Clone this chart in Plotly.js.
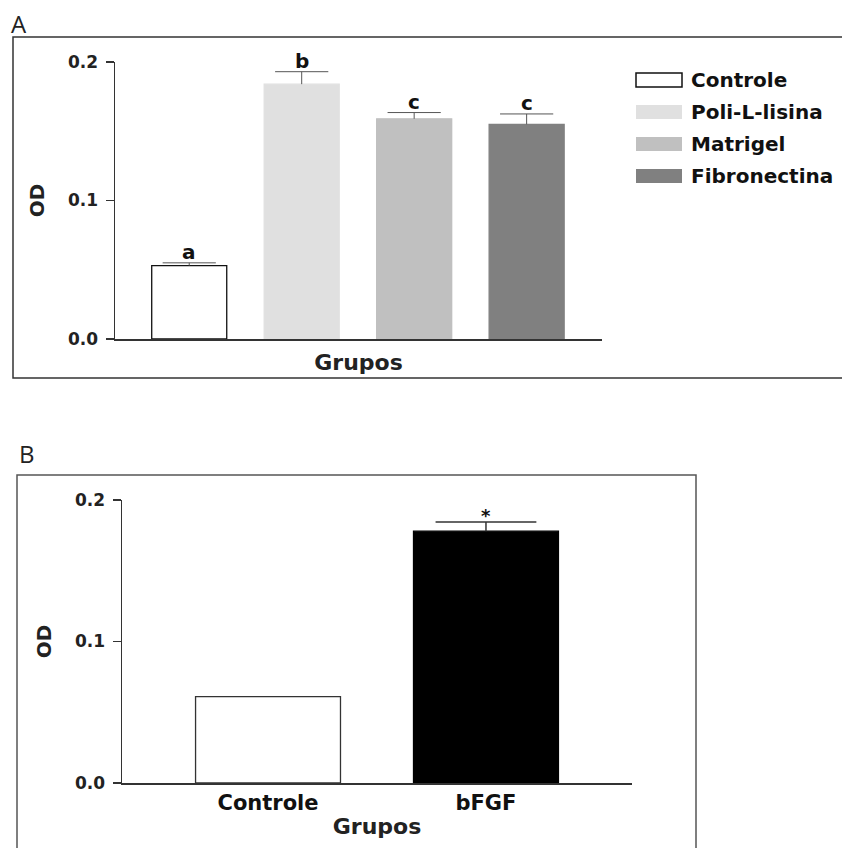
<!DOCTYPE html>
<html>
<head>
<meta charset="utf-8">
<script src="https://cdn.plot.ly/plotly-3.0.1.min.js"></script>
<style>html,body{margin:0;padding:0;background:#fff;}#chart{width:842px;height:848px;}</style>
</head>
<body>
<div id="chart"></div>
<script>
// ---- data (panel A) ----
const groupsA = ['Controle', 'Poli-L-lisina', 'Matrigel', 'Fibronectina'];
const odA = [0.053, 0.184, 0.159, 0.155];
const errA = [0.002, 0.009, 0.0045, 0.0075];
const lettersA = ['a', 'b', 'c', 'c'];
// ---- data (panel B) ----
const groupsB = ['Controle', 'bFGF'];
const odB = [0.061, 0.178];
const errB = [0, 0.0065];
const marksB = ['', '*'];
const yTicks = [0, 0.1, 0.2];
const yTitle = 'OD';
const xTitle = 'Grupos';
const panelLabels = ['A', 'B'];

// ---- styles ----
const W = 842, H = 848;
const px = x => x / W;
const py = y => 1 - y / H;
const fillA = ['#ffffff', '#e0e0e0', '#c0c0c0', '#808080'];
const edgeA = ['#111111', '#e0e0e0', '#c0c0c0', '#808080'];
const fillB = ['#ffffff', '#000000'];
const edgeB = ['#333333', '#000000'];
const boldFont = 'DejaVu Sans, Verdana, sans-serif';

const topA = odA.map((v, i) => v + errA[i]);
const topB = odB.map((v, i) => v + errB[i]);

const traces = [
  {
    type: 'bar', x: groupsA, y: odA, xaxis: 'x', yaxis: 'y', width: 0.667,
    marker: {color: fillA, line: {color: edgeA, width: 1.3}},
    error_y: {type: 'data', array: errA, arrayminus: errA.map(() => 0), symmetric: false,
              color: '#555', thickness: 1, width: 0},
    hoverinfo: 'x+y', showlegend: false
  },
  { // error bar caps (upper only)
    type: 'scatter', mode: 'markers', x: groupsA, y: topA, xaxis: 'x', yaxis: 'y',
    marker: {symbol: 'line-ew-open', size: 38, color: '#555', line: {color: '#555', width: 1}},
    hoverinfo: 'skip', showlegend: false
  },
  {
    type: 'bar', x: groupsB, y: odB, xaxis: 'x2', yaxis: 'y2', width: 0.665,
    marker: {color: fillB, line: {color: edgeB, width: 1.3}},
    error_y: {type: 'data', array: errB, arrayminus: errB.map(() => 0), symmetric: false,
              color: '#333', thickness: 1.5, width: 0},
    hoverinfo: 'x+y', showlegend: false
  },
  {
    type: 'scatter', mode: 'markers', x: groupsB.filter((g, i) => errB[i] > 0), y: topB.filter((v, i) => errB[i] > 0),
    xaxis: 'x2', yaxis: 'y2',
    marker: {symbol: 'line-ew-open', size: 72, color: '#333', line: {color: '#333', width: 1.5}},
    hoverinfo: 'skip', showlegend: false
  }
];

const yaxisCommon = {
  range: [0, 0.2], tickvals: yTicks, tickformat: '.1f',
  showline: true, linecolor: '#333', linewidth: 1.5, ticks: 'outside', ticklen: 8,
  tickcolor: '#333', tickwidth: 1.5, showgrid: false, zeroline: false, ticklabelstandoff: 4,
  tickfont: {family: boldFont, size: 17, color: '#222', weight: 'bold'},
  title: {text: yTitle, font: {family: boldFont, size: 20, color: '#222', weight: 'bold'}, standoff: 18}
};

const annotations = [];
groupsA.forEach((g, i) => annotations.push({
  xref: 'x', yref: 'y', x: g, y: topA[i], text: lettersA[i], showarrow: false,
  yanchor: 'bottom', yshift: -3,
  font: {family: boldFont, size: 20, color: '#111', weight: 'bold'}
}));
groupsB.forEach((g, i) => { if (marksB[i]) annotations.push({
  xref: 'x2', yref: 'y2', x: g, y: topB[i], text: marksB[i], showarrow: false,
  yanchor: 'bottom', yshift: -6,
  font: {family: boldFont, size: 18, color: '#111', weight: 'bold'}
}); });
annotations.push({xref: 'paper', yref: 'paper', x: px(9), y: py(23), xanchor: 'left', yanchor: 'middle',
  text: panelLabels[0], showarrow: false, font: {family: 'Open Sans, sans-serif', size: 24, color: '#222'}});
annotations.push({xref: 'paper', yref: 'paper', x: px(17), y: py(454), xanchor: 'left', yanchor: 'middle',
  text: panelLabels[1], showarrow: false, font: {family: 'Open Sans, sans-serif', size: 24, color: '#222'}});

// custom legend for panel A
const shapes = [
  {type: 'rect', xref: 'paper', yref: 'paper', x0: px(13), x1: 1.02, y0: py(378), y1: py(37),
   line: {color: '#333', width: 1.5}, fillcolor: 'rgba(0,0,0,0)', layer: 'below'},
  {type: 'rect', xref: 'paper', yref: 'paper', x0: px(17), x1: px(696), y0: -0.02, y1: py(475),
   line: {color: '#555', width: 1.5}, fillcolor: 'rgba(0,0,0,0)', layer: 'below'}
];
groupsA.forEach((g, i) => {
  const cy = 80 + 32 * i;
  shapes.push({type: 'rect', xref: 'paper', yref: 'paper', x0: px(636), x1: px(682), y0: py(cy + 7), y1: py(cy - 7),
    fillcolor: fillA[i], line: {color: i === 0 ? '#111' : fillA[i], width: i === 0 ? 1.5 : 0}});
  annotations.push({xref: 'paper', yref: 'paper', x: px(689), y: py(cy), xanchor: 'left', yanchor: 'middle',
    text: g, showarrow: false, font: {family: boldFont, size: 20, color: '#111', weight: 'bold'}});
});

const layout = {
  width: W, height: H, margin: {l: 0, r: 0, t: 0, b: 0},
  paper_bgcolor: '#fff', plot_bgcolor: 'rgba(0,0,0,0)', showlegend: false, bargap: 0,
  xaxis: {domain: [px(115), px(602)], range: [-0.66, 3.67], type: 'category', anchor: 'y',
    showline: true, linecolor: '#333', linewidth: 1.5, ticks: '', showticklabels: false, showgrid: false, zeroline: false,
    title: {text: xTitle, font: {family: boldFont, size: 22, color: '#222', weight: 'bold'}, standoff: 15}},
  yaxis: Object.assign({}, yaxisCommon, {domain: [py(339), py(62)], anchor: 'x'}),
  xaxis2: {domain: [px(122), px(632)], range: [-0.67, 1.67], type: 'category', anchor: 'y2',
    showline: true, linecolor: '#333', linewidth: 1.5, ticks: '', showgrid: false, zeroline: false,
    tickfont: {family: boldFont, size: 21, color: '#111', weight: 'bold'},
    title: {text: xTitle, font: {family: boldFont, size: 22, color: '#222', weight: 'bold'}, standoff: 5}},
  yaxis2: Object.assign({}, yaxisCommon, {domain: [py(783), py(500)], anchor: 'x2'}),
  shapes: shapes,
  annotations: annotations
};

Plotly.newPlot('chart', traces, layout, {displayModeBar: false, staticPlot: true});
</script>
</body>
</html>
